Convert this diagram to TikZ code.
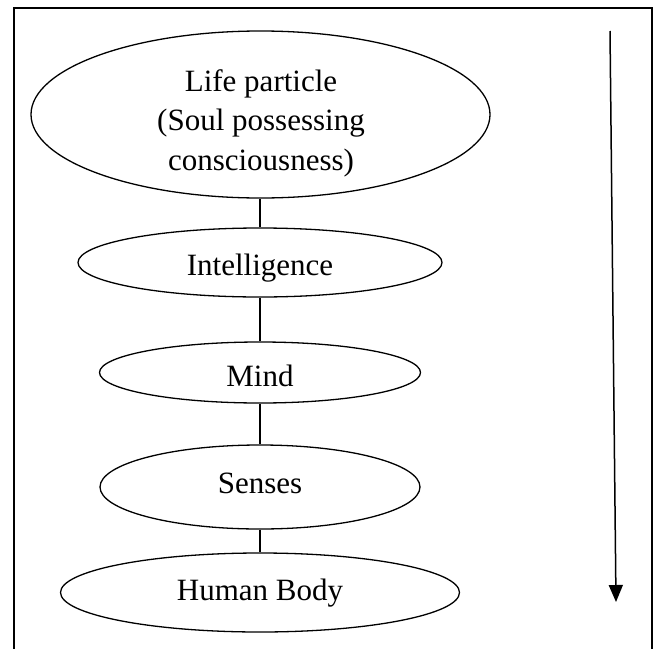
\documentclass[tikz,border=0pt]{standalone}
\usepackage{fontspec}
\setmainfont{Liberation Serif}
\usetikzlibrary{shapes.geometric,arrows.meta}
\begin{document}
\begin{tikzpicture}[x=1pt,y=-1pt,
  oval/.style={ellipse,draw,line width=1.3pt,inner sep=0pt},
  txt/.style={anchor=base,inner sep=0pt,font=\fontsize{31}{39.5}\selectfont},
  link/.style={line width=1.3pt},
  flow/.style={line width=1.5pt,-{Triangle[length=17pt,width=14pt]}}]
\useasboundingbox (0,0) rectangle (664,648);
\draw[line width=1.8pt] (14,670) -- (14,8) -- (652,8) -- (652,670);
\node[oval,minimum width=459pt,minimum height=167pt] (life) at (260.5,114.5) {};
\node[oval,minimum width=364pt,minimum height=69pt] (intel) at (260,262.5) {};
\node[oval,minimum width=321pt,minimum height=61pt] (mind) at (260,372.5) {};
\node[oval,minimum width=320pt,minimum height=84pt] (senses) at (260,487) {};
\node[oval,minimum width=399pt,minimum height=79pt] (body) at (260,592.5) {};
\node[txt] (lifeA) at (261,91) {Life particle};
\node[txt] (lifeB) at (261,130.5) {(Soul possessing};
\node[txt] (lifeC) at (261,170) {consciousness)};
\node[txt] (intelT) at (260,275) {Intelligence};
\node[txt] (mindT) at (260,386) {Mind};
\node[txt] (sensesT) at (260,493) {Senses};
\node[txt] (bodyT) at (260,600) {Human Body};
\draw[link] (intel.north) -- (intel.north |- life.south);
\draw[link] (intel.south) -- (mind.north);
\draw[link] (mind.south) -- (senses.north);
\draw[link] (senses.south) -- (body.north);
\coordinate (atop) at (610,31);
\coordinate (abot) at (616,602);
\draw[flow] (atop) -- (abot);
\end{tikzpicture}
\end{document}
